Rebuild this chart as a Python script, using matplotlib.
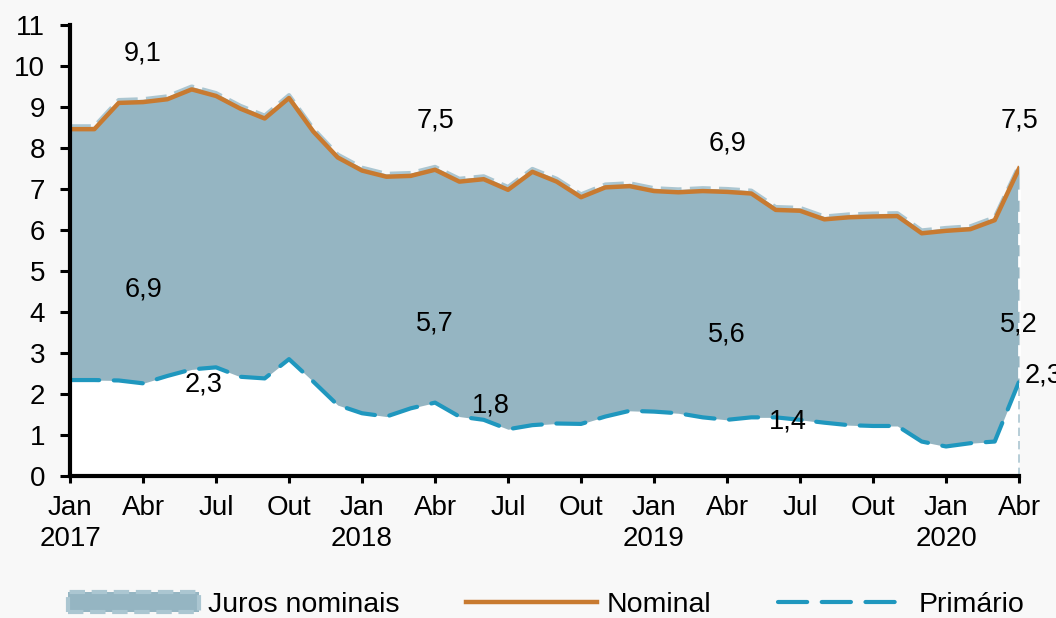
import numpy as np
import matplotlib
matplotlib.use('Agg')
import matplotlib.pyplot as plt
from matplotlib.patches import Patch
from matplotlib.lines import Line2D

plt.rcParams['font.family'] = ['Liberation Sans', 'DejaVu Sans']

# monthly data, Jan 2017 .. Abr 2020
nominal = [8.46, 8.46, 9.10, 9.12, 9.19, 9.43, 9.27, 8.96, 8.72, 9.22,
           8.40, 7.77, 7.45, 7.30, 7.32, 7.47, 7.18, 7.24, 6.98, 7.42,
           7.18, 6.80, 7.04, 7.07, 6.95, 6.92, 6.95, 6.93, 6.89, 6.49,
           6.47, 6.26, 6.31, 6.33, 6.34, 5.92, 5.98, 6.02, 6.24, 7.50]
primario = [2.34, 2.34, 2.33, 2.26, 2.44, 2.60, 2.65, 2.42, 2.38, 2.85,
            2.30, 1.73, 1.53, 1.45, 1.65, 1.79, 1.45, 1.37, 1.14, 1.24,
            1.28, 1.27, 1.45, 1.59, 1.57, 1.53, 1.43, 1.37, 1.43, 1.43,
            1.37, 1.30, 1.24, 1.22, 1.22, 0.84, 0.72, 0.80, 0.84, 2.30]
xtick_labels = ['Jan\n2017', 'Abr', 'Jul', 'Out', 'Jan\n2018', 'Abr', 'Jul', 'Out',
                'Jan\n2019', 'Abr', 'Jul', 'Out', 'Jan\n2020', 'Abr']
label_months = [3, 15, 27, 39]   # Abr of each year

nominal = np.array(nominal)
primario = np.array(primario)
x = np.arange(len(nominal))

c_fill = '#95b5c2'
c_edge = '#abc6d1'
c_nom = '#c87a30'
c_prim = '#1f97be'
bg = '#f8f8f8'

fig = plt.figure(figsize=(10.56, 6.18), dpi=100, facecolor=bg)
ax = fig.add_axes([0.0663, 0.2298, 0.8987, 0.7297])
ax.set_facecolor(bg)

# white under primario, area between primario and nominal
top = nominal + 0.07
ax.fill_between(x, 0, primario, color='white', lw=0, zorder=1)
ax.fill_between(x, primario, top, color=c_fill, lw=0, zorder=2)
ax.plot(x, top, color=c_edge, lw=3, ls=(0, (5, 2)), zorder=3)
ax.plot([39, 39], [primario[-1] + 0.1, top[-1] - 0.3], color='white', lw=2,
        ls=(0, (4, 4)), zorder=3, clip_on=False)
ax.plot([39, 39], [0, primario[-1]], color=c_edge, lw=1.2,
        ls=(0, (5, 3)), zorder=3, clip_on=False)

ax.plot(x, nominal, color=c_nom, lw=3.2, zorder=4, solid_joinstyle='round')
ax.plot(x, primario, color=c_prim, lw=3, ls=(0, (7, 3.5)),
        dash_capstyle='round', zorder=4)

# value labels
def fmt(v):
    return f'{v:.1f}'.replace('.', ',')

top_y = [10.3, 8.67, 8.12, 8.67]
mid_y = [4.54, 3.71, 3.44, 3.70]
low_pos = [(5.5, 2.22), (17.3, 1.73), (29.5, 1.32), (40.0, 2.46)]
for i, m in enumerate(label_months):
    ax.text(m, top_y[i], fmt(nominal[m]), ha='center', va='center', fontsize=19.5, zorder=6)
    ax.text(m, mid_y[i], fmt(nominal[m] - primario[m]), ha='center', va='center', fontsize=19.5, zorder=6)
    ax.text(low_pos[i][0], low_pos[i][1], fmt(primario[m]), ha='center', va='center',
            fontsize=19.5, zorder=6, clip_on=False)

ax.set_xlim(0, 39)
ax.set_ylim(0, 11)
ax.set_yticks(range(0, 12))
ax.set_xticks(range(0, 40, 3))
ax.set_xticklabels(xtick_labels, linespacing=1.25)
ax.tick_params(axis='y', labelsize=20, length=7, width=2.2, pad=11)
ax.tick_params(axis='x', labelsize=20, length=5, width=2.2, pad=9)
for s in ['top', 'right']:
    ax.spines[s].set_visible(False)
for s in ['left', 'bottom']:
    ax.spines[s].set_linewidth(3)
    ax.spines[s].set_zorder(5)

handles = [Patch(facecolor=c_fill, edgecolor=c_edge, lw=3, ls='--'),
           Line2D([], [], color=c_nom, lw=3.2),
           Line2D([], [], color=c_prim, lw=3, ls=(0, (7, 3.5)), dash_capstyle='round')]
fig.legend(handles, ['Juros nominais', 'Nominal', 'Primário'], loc='center',
           bbox_to_anchor=(0.517, 0.021), ncol=3, frameon=False, fontsize=20.5,
           handlelength=4.6, handletextpad=0.32, columnspacing=2.36, borderpad=0)

fig.savefig('out.png', dpi=100, facecolor=bg)
